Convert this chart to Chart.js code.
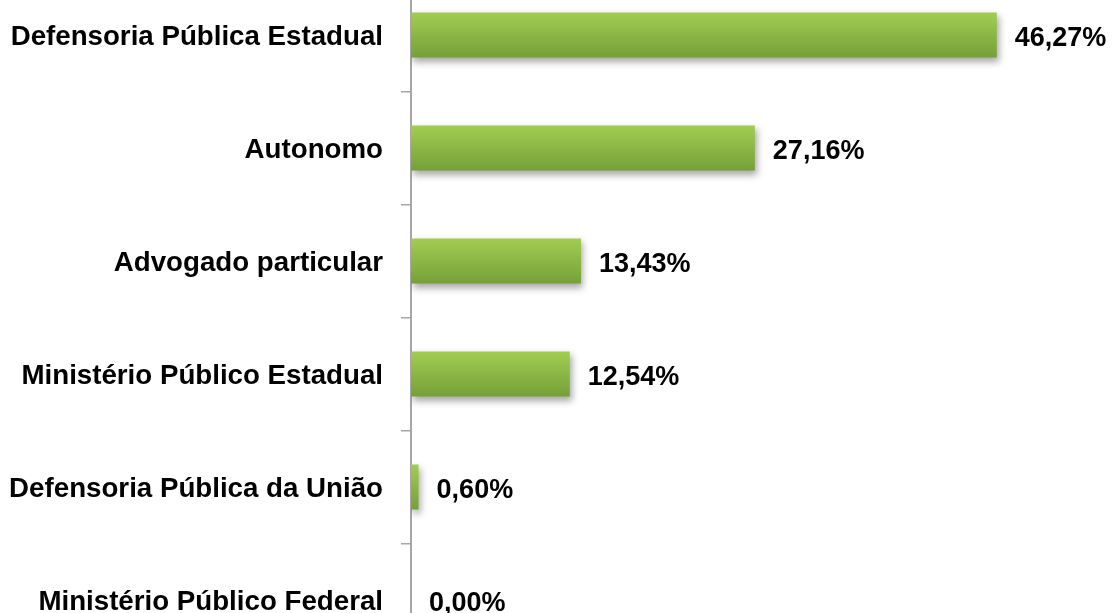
<!DOCTYPE html>
<html>
<head>
<meta charset="utf-8">
<script src="https://cdn.jsdelivr.net/npm/chart.js@4/dist/chart.umd.min.js"></script>
<style>
    html, body { margin: 0; padding: 0; background: #fff; overflow: hidden; width: 1113px; height: 613px; }
    #wrap { position: relative; width: 1113px; height: 613px; overflow: hidden; }
    #chart { position: absolute; left: 0; top: -32px; }
</style>
</head>
<body>
<div id="wrap"><canvas id="chart" width="1113" height="700"></canvas></div>
<script>
// categorias e percentuais
const categorias = [
    'Defensoria Pública Estadual',
    'Autonomo',
    'Advogado particular',
    'Ministério Público Estadual',
    'Defensoria Pública da União',
    'Ministério Público Federal'
];
const percentuais = [46.27, 27.16, 13.43, 12.54, 0.60, 0.00];

// degrade verde por barra (claro em cima, escuro embaixo)
function barGradient(c) {
    const chart = c.chart;
    const y = chart.scales.y;
    if (!y || c.dataIndex === undefined) return '#8ab843';
    const center = y.getPixelForValue(c.dataIndex);
    const half = Math.abs(y.getPixelForValue(1) - y.getPixelForValue(0)) * 0.2;
    if (!isFinite(center) || !isFinite(half) || half === 0) return '#8ab843';
    const g = chart.ctx.createLinearGradient(0, center - half, 0, center + half);
    g.addColorStop(0, '#a2cd52');
    g.addColorStop(1, '#75a039');
    return g;
}

// sombra suave embaixo das barras
const sombraPlugin = {
    id: 'sombra',
    beforeDatasetsDraw(chart) {
        const ctx = chart.ctx;
        ctx.save();
        ctx.shadowColor = 'rgba(0,0,0,0.35)';
        ctx.shadowBlur = 7;
        ctx.shadowOffsetX = 2;
        ctx.shadowOffsetY = 4;
    },
    afterDatasetsDraw(chart) {
        chart.ctx.restore();
    }
};

// rotulos de valor depois de cada barra
const rotuloPlugin = {
    id: 'rotulos',
    afterDraw(chart) {
        const ctx = chart.ctx;
        const meta = chart.getDatasetMeta(0);
        ctx.save();
        ctx.font = 'bold 27px "Liberation Sans", Arial, sans-serif';
        ctx.fillStyle = '#000';
        ctx.textAlign = 'left';
        ctx.textBaseline = 'middle';
        meta.data.forEach((bar, i) => {
            const txt = percentuais[i].toFixed(2).replace('.', ',') + '%';
            ctx.fillText(txt, bar.x + 18, bar.y + 4);
        });
        ctx.restore();
    }
};

new Chart(document.getElementById('chart'), {
    type: 'bar',
    data: {
        labels: categorias,
        datasets: [{
            data: percentuais,
            backgroundColor: barGradient,
            borderWidth: 0,
            barPercentage: 0.4,
            categoryPercentage: 1
        }]
    },
    options: {
        indexAxis: 'y',
        responsive: false,
        animation: false,
        devicePixelRatio: 1,
        layout: { padding: { left: 0, right: 69, top: 10.5, bottom: 11.5 } },
        plugins: { legend: { display: false }, tooltip: { enabled: false } },
        scales: {
            x: { display: false, min: 0, max: 50 },
            y: {
                afterFit(s) { s.width = 411; s.paddingTop = 0; s.paddingBottom = 0; },
                border: { display: true, color: '#a6a6a6', width: 2 },
                grid: { drawOnChartArea: false, drawTicks: true, tickLength: 10, color: '#a6a6a6', lineWidth: 1.5, offset: true },
                ticks: {
                    padding: 18,
                    labelOffset: 2,
                    color: '#000',
                    font: { family: '"Liberation Sans", Arial, sans-serif', size: 27.7, weight: 'bold' }
                }
            }
        }
    },
    plugins: [sombraPlugin, rotuloPlugin]
});
</script>
</body>
</html>
